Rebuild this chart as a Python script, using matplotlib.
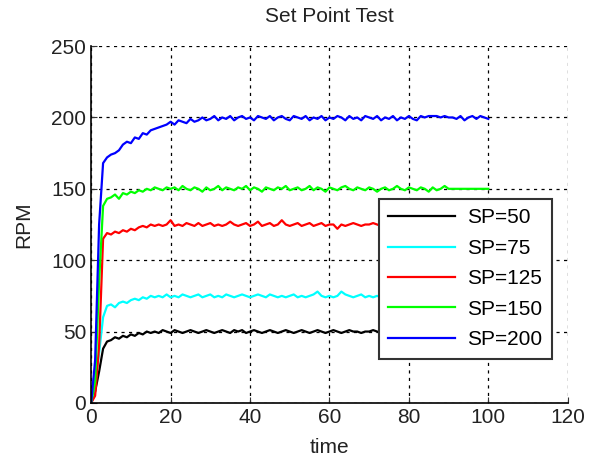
import matplotlib.pyplot as plt

# Tempo de amostragem (s)
tempo = list(range(0, 101))

# Leituras de RPM para cada SetPoint
rpm_sp50 = [0, 8, 22, 38, 43, 44, 46, 45, 47, 46, 48, 47, 49, 48, 50, 49, 50, 49, 51, 50,
            49, 51, 50, 49, 50, 51, 50, 49, 50, 51, 50, 49, 50, 51, 50, 49, 51, 50, 51, 49,
            50, 51, 50, 49, 50, 51, 50, 49, 50, 51, 50, 49, 50, 51, 50, 49, 50, 51, 50, 49,
            50, 51, 50, 49, 50, 51, 50, 50, 49, 50, 50, 51, 50, 49, 50, 50, 51, 50, 50, 49,
            50, 50, 51, 50, 50, 49, 50, 50, 51, 50, 50, 50, 49, 50, 50, 51, 50, 50, 50, 50, 50]
rpm_sp75 = [0, 12, 35, 60, 68, 69, 67, 70, 71, 70, 72, 73, 72, 74, 73, 75, 74, 75, 74, 76,
            74, 75, 74, 76, 75, 74, 75, 76, 74, 75, 76, 74, 75, 74, 76, 75, 74, 75, 76, 75,
            74, 75, 76, 75, 74, 76, 75, 74, 75, 74, 75, 76, 74, 75, 74, 75, 76, 78, 75, 74,
            75, 74, 75, 78, 76, 75, 74, 75, 76, 74, 75, 74, 75, 74, 75, 76, 75, 74, 75, 75,
            76, 75, 74, 75, 75, 76, 75, 74, 75, 75, 76, 75, 74, 75, 75, 75, 76, 75, 74, 75, 75]
rpm_sp125 = [0, 5, 40, 115, 119, 118, 120, 119, 121, 120, 122, 121, 123, 124, 123, 125, 124, 125, 124, 125,
             128, 124, 125, 124, 126, 125, 124, 126, 124, 125, 126, 124, 125, 124, 125, 127, 125, 124, 125, 126,
             124, 125, 127, 124, 125, 126, 124, 125, 128, 125, 124, 125, 126, 124, 125, 126, 124, 125, 126, 124,
             125, 125, 122, 125, 124, 125, 126, 125, 124, 125, 125, 126, 125, 124, 125, 125, 126, 125, 124, 125,
             126, 125, 124, 125, 125, 126, 125, 124, 125, 125, 126, 125, 125, 124, 125, 126, 125, 125, 125, 125, 125]
rpm_sp150 = [0, 15, 85, 138, 143, 144, 146, 143, 147, 146, 148, 147, 149, 148, 150, 149, 151, 150, 149, 151,
             150, 151, 149, 152, 150, 149, 151, 150, 148, 151, 149, 150, 152, 149, 151, 150, 149, 151, 150, 152,
             149, 151, 150, 148, 151, 150, 149, 151, 150, 152, 149, 150, 151, 149, 150, 152, 149, 151, 150, 148,
             151, 150, 149, 151, 152, 150, 149, 151, 150, 149, 151, 150, 148, 150, 151, 149, 150, 152, 150, 149,
             151, 150, 149, 151, 150, 148, 151, 149, 150, 152, 150, 150, 150, 150, 150, 150, 150, 150, 150, 150, 150]
rpm_sp200 = [0, 30, 125, 168, 172, 174, 175, 177, 181, 183, 182, 186, 185, 189, 188, 191, 192, 193, 194, 195,
             197, 195, 198, 197, 196, 199, 197, 198, 200, 198, 199, 201, 198, 200, 199, 201, 198, 200, 201, 199,
             200, 198, 201, 200, 199, 201, 198, 200, 201, 199, 198, 201, 200, 199, 201, 198, 200, 199, 201, 198,
             200, 199, 201, 200, 198, 201, 199, 200, 198, 201, 200, 199, 201, 198, 200, 199, 201, 198, 200, 199,
             201, 199, 198, 201, 200, 201, 201, 201, 200, 201, 200, 200, 199, 201, 198, 200, 201, 199, 201, 200, 199]

series = [
    (rpm_sp50, 'k', 'SP=50'),
    (rpm_sp75, 'cyan', 'SP=75'),
    (rpm_sp125, 'red', 'SP=125'),
    (rpm_sp150, 'lime', 'SP=150'),
    (rpm_sp200, 'blue', 'SP=200'),
]

plt.rcParams['font.family'] = ['Liberation Sans', 'DejaVu Sans']
plt.rcParams['font.size'] = 15

fig = plt.figure(figsize=(5.92, 4.61), dpi=100)
ax = fig.add_axes([0.154, 0.126, 0.805, 0.774])

for dados, cor, nome in series:
    ax.plot(tempo, dados, color=cor, linewidth=1.6, label=nome)

ax.set_xlim(0, 120)
ax.set_ylim(0, 250)
ax.set_xticks(range(0, 121, 20))
ax.set_yticks(range(0, 251, 50))
ax.grid(True, color='k', linestyle=(0, (2.5, 3.5)), linewidth=0.9)
ax.set_axisbelow(True)
for lado in ['top', 'right']:
    ax.spines[lado].set_visible(False)
for lado in ['left', 'bottom']:
    ax.spines[lado].set_linewidth(1.2)
ax.tick_params(direction='in', length=4, colors='#333333', labelcolor='#222222')

ax.set_title('Set Point Test', fontsize=15, color='#222222', pad=17)
ax.set_xlabel('time', fontsize=15, color='#222222', labelpad=8)
ax.set_ylabel('RPM', fontsize=15, color='#222222', labelpad=13)

leg = ax.legend(loc='upper left', bbox_to_anchor=(379 / 592, 1 - 199 / 461),
                bbox_transform=fig.transFigure, borderaxespad=0, fancybox=False,
                framealpha=1, edgecolor='#333333', handlelength=3.2,
                labelspacing=0.55, borderpad=0.45, handletextpad=0.6)
leg.get_frame().set_linewidth(1.5)

fig.savefig('out.png', dpi=100)
